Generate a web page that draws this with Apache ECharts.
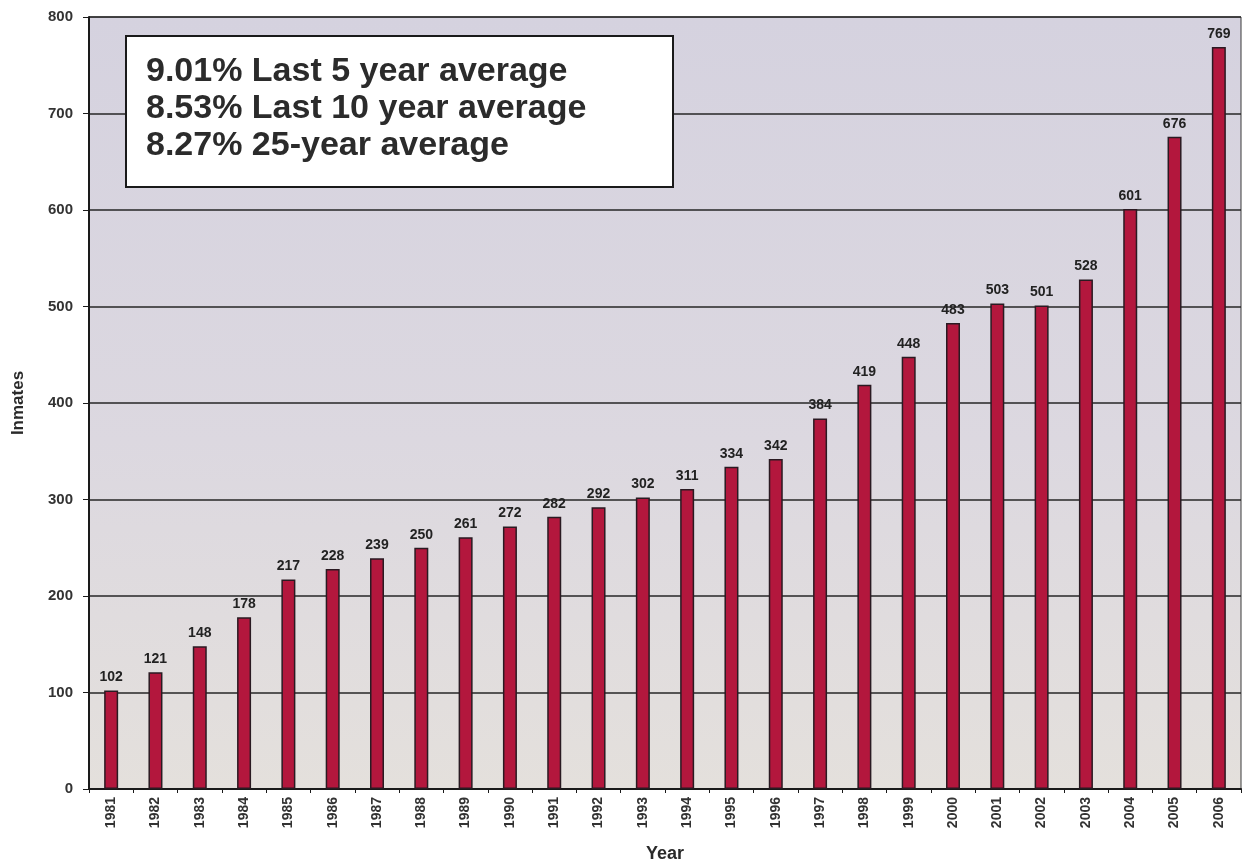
<!DOCTYPE html>
<html>
<head>
<meta charset="utf-8">
<title>Inmates by Year</title>
<script src="https://cdn.jsdelivr.net/npm/echarts@6/dist/echarts.min.js"></script>
<style>
  html, body { margin: 0; padding: 0; background: #ffffff; }
  #chart { width: 1244px; height: 864px; }
</style>
</head>
<body>
<div id="chart"></div>
<script>
// Year-end inmate counts, 1981-2006
const years = ['1981','1982','1983','1984','1985','1986','1987','1988','1989','1990',
  '1991','1992','1993','1994','1995','1996','1997','1998','1999','2000',
  '2001','2002','2003','2004','2005','2006'];
const inmates = [102,121,148,178,217,228,239,250,261,272,
  282,292,302,311,334,342,384,419,448,483,
  503,501,528,601,676,769];
// Growth-rate notes shown in the boxed callout
const averageNotes = [
  '9.01% Last 5 year average',
  '8.53% Last 10 year average',
  '8.27% 25-year average'
];
const yTicks = { min: 0, max: 800, interval: 100 };

const ink = '#2a2a2a';
const font = 'Arial, "Liberation Sans", sans-serif';
const chart = echarts.init(document.getElementById('chart'));

chart.setOption({
  backgroundColor: '#ffffff',
  animation: false,
  textStyle: { fontFamily: font },
  grid: {
    left: 89, right: 3, top: 17, bottom: 75,
    outerBoundsMode: 'none',
    containLabel: false,
    show: true,
    backgroundColor: new echarts.graphic.LinearGradient(0, 0, 0, 1, [
      { offset: 0, color: '#d5d2df' },
      { offset: 0.55, color: '#dcd8e0' },
      { offset: 1, color: '#e4e0dc' }
    ]),
    borderColor: '#3a3a3a',
    borderWidth: 1
  },
  xAxis: {
    type: 'category',
    data: years,
    name: 'Year',
    nameLocation: 'middle',
    nameGap: 56,
    nameTextStyle: { fontSize: 18, fontWeight: 'bold', color: ink },
    axisLine: { lineStyle: { color: '#1a1a1a', width: 2 } },
    axisTick: { show: true, length: 4, lineStyle: { color: '#1a1a1a' } },
    axisLabel: { rotate: 90, fontSize: 14, fontWeight: 'bold', color: '#333', margin: 8 }
  },
  yAxis: {
    type: 'value',
    min: yTicks.min, max: yTicks.max, interval: yTicks.interval,
    name: 'Inmates',
    nameLocation: 'middle',
    nameGap: 62,
    nameRotate: 90,
    nameTextStyle: { fontSize: 17, fontWeight: 'bold', color: ink },
    axisLine: { show: true, lineStyle: { color: '#1a1a1a', width: 2 } },
    axisTick: { show: true, length: 6, lineStyle: { color: '#1a1a1a' } },
    axisLabel: { fontSize: 15, fontWeight: 'bold', color: '#333', margin: 16 },
    splitLine: { lineStyle: { color: '#262626', width: 1.5 } }
  },
  series: [{
    type: 'bar',
    data: inmates,
    barWidth: 14,
    itemStyle: { color: '#b3173d', borderColor: '#2a1a22', borderWidth: 1.5 },
    label: {
      show: true,
      position: 'top',
      distance: 6,
      fontSize: 14,
      fontWeight: 'bold',
      color: '#222'
    }
  }],
  graphic: [{
    type: 'group',
    left: 125,
    top: 35,
    z: 100,
    children: [{
      type: 'rect',
      z: 100,
      shape: { x: 0, y: 0, width: 547, height: 151 },
      style: { fill: '#ffffff', stroke: '#1a1a1a', lineWidth: 2 }
    }, {
      type: 'text',
      z: 101,
      x: 20,
      y: 17,
      style: {
        text: averageNotes.join('\n'),
        fontSize: 34,
        fontWeight: 'bold',
        lineHeight: 37,
        fill: '#2b2b2b',
        fontFamily: font
      }
    }]
  }]
});
</script>
</body>
</html>
